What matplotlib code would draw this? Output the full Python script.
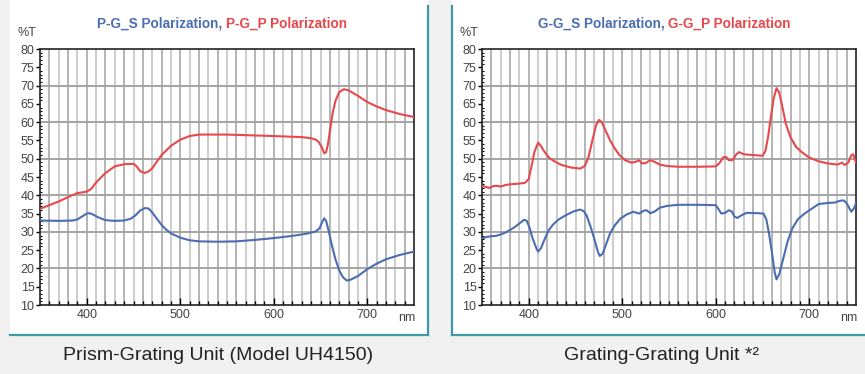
import matplotlib
matplotlib.use("Agg")
import matplotlib.pyplot as plt
from matplotlib.patches import Rectangle
from matplotlib.lines import Line2D

plt.rcParams['font.family'] = ['Liberation Sans', 'DejaVu Sans']

# ---- Data: Prism-Grating unit ----
pg_p_nm = [350, 360, 370, 380, 390, 400, 405, 410, 420, 430, 440, 450, 453, 457, 462, 466, 470, 475, 480,
           490, 500, 510, 520, 550, 600, 630, 640, 645, 648, 651, 654, 656, 658, 660, 663, 666, 670, 675,
           680, 690, 700, 710, 720, 735, 750]
pg_p_t = [36.3, 37.3, 38.3, 39.5, 40.6, 41.0, 41.8, 43.5, 46.1, 47.9, 48.5, 48.6, 48.0, 46.6, 46.1, 46.5, 47.4, 49.2, 51.0,
          53.5, 55.2, 56.2, 56.6, 56.6, 56.2, 55.9, 55.6, 55.2, 54.6, 53.3, 51.5, 51.8, 54.0, 57.5, 62.5, 65.8, 68.2, 69.0,
          68.7, 67.2, 65.5, 64.3, 63.3, 62.2, 61.4]

pg_s_nm = [350, 370, 385, 390, 395, 400, 403, 407, 412, 420, 430, 440, 447, 452, 457, 462, 466, 470, 475, 480,
           485, 490, 500, 510, 520, 540, 560, 580, 600, 620, 635, 645, 649, 652, 654, 656, 659, 662, 666, 670,
           674, 678, 682, 690, 700, 710, 720, 735, 750]
pg_s_t = [33.1, 33.0, 33.1, 33.4, 34.2, 35.0, 35.1, 34.7, 34.0, 33.2, 33.0, 33.1, 33.6, 34.5, 35.8, 36.5, 36.4, 35.3, 33.6, 31.9,
          30.6, 29.6, 28.4, 27.7, 27.4, 27.3, 27.4, 27.8, 28.3, 28.9, 29.5, 30.1, 31.0, 32.8, 33.7, 33.0, 30.0, 26.5, 22.5, 19.5,
          17.6, 16.7, 16.9, 17.9, 19.8, 21.3, 22.5, 23.7, 24.6]

# ---- Data: Grating-Grating unit ----
gg_p_nm = [350, 355, 358, 362, 365, 370, 375, 380, 390, 396, 400, 403, 406, 410, 413, 417, 422, 428, 435, 445,
           455, 460, 464, 468, 472, 475, 478, 482, 487, 492, 497, 503, 510, 515, 518, 521, 525, 530, 535, 540,
           548, 560, 580, 600, 604, 608, 611, 614, 618, 622, 625, 630, 640, 650, 653, 656, 659, 662, 665, 668,
           671, 675, 680, 686, 692, 700, 710, 720, 730, 735, 738, 742, 745, 747, 750]
gg_p_t = [42.6, 42.2, 42.0, 42.5, 42.6, 42.4, 42.8, 43.0, 43.2, 43.4, 44.5, 48.0, 51.8, 54.4, 53.5, 51.8, 50.2, 49.2, 48.3, 47.6,
          47.3, 48.0, 50.5, 55.0, 59.2, 60.6, 60.0, 57.8, 55.0, 52.8, 51.0, 49.6, 48.9, 49.2, 49.6, 48.7, 48.8, 49.6, 49.1, 48.4,
          48.0, 47.8, 47.8, 47.9, 48.8, 50.4, 50.5, 49.6, 49.6, 51.2, 51.8, 51.2, 51.0, 50.8, 52.0, 56.0, 61.5, 66.5, 69.3, 68.0,
          64.5, 59.5, 55.8, 53.2, 51.8, 50.3, 49.3, 48.7, 48.4, 48.9, 48.3, 49.0, 51.0, 51.2, 48.9]

gg_s_nm = [350, 355, 360, 365, 370, 375, 380, 385, 390, 395, 398, 401, 404, 408, 410, 413, 417, 421, 426, 432,
           440, 448, 455, 459, 462, 466, 470, 474, 476, 479, 483, 487, 492, 498, 505, 512, 518, 523, 526, 530,
           535, 540, 548, 560, 580, 600, 603, 606, 610, 614, 617, 620, 623, 628, 633, 645, 651, 654, 657, 660,
           663, 665, 668, 672, 677, 682, 688, 695, 702, 710, 720, 727, 733, 737, 740, 743, 745, 748, 750]
gg_s_t = [28.2, 28.6, 28.8, 28.9, 29.3, 29.8, 30.5, 31.3, 32.3, 33.3, 33.0, 31.0, 28.3, 25.6, 24.6, 25.5, 28.0, 30.3, 32.0, 33.4,
          34.6, 35.6, 36.1, 35.6, 34.4, 31.5, 28.2, 24.5, 23.4, 24.0, 26.8, 29.6, 31.8, 33.6, 34.8, 35.5, 35.0, 35.8, 35.9, 35.1,
          35.6, 36.6, 37.1, 37.4, 37.4, 37.3, 36.2, 35.0, 35.2, 35.9, 35.6, 34.2, 33.8, 34.6, 35.2, 35.1, 35.0, 33.5, 29.5, 24.5,
          19.0, 17.0, 18.5, 22.5, 27.5, 31.0, 33.5, 35.0, 36.2, 37.6, 37.9, 38.0, 38.5, 38.6, 37.8, 36.4, 35.5, 36.5, 37.9]

titles_s = ["P-G_S Polarization, ", "G-G_S Polarization, "]
titles_p = ["P-G_P Polarization", "G-G_P Polarization"]
captions = ["Prism-Grating Unit (Model UH4150)", "Grating-Grating Unit *\u00b2"]
x_ticks = [400, 500, 600, 700]
y_ticks = list(range(10, 81, 5))

RED = "#e8484b"
BLUE = "#4b6db2"
TEAL = "#3c9aa6"
W, H = 865, 374

fig = plt.figure(figsize=(W / 100, H / 100), dpi=100, facecolor="#f1f1f1")

def fx(px):
    return px / W

def fy(py):
    return 1 - py / H

# panels
fig.patches.append(Rectangle((fx(10), fy(336)), fx(418), 336 / H, transform=fig.transFigure,
                             facecolor="white", edgecolor="none", zorder=0))
fig.patches.append(Rectangle((fx(452), fy(336)), fx(413), 336 / H, transform=fig.transFigure,
                             facecolor="white", edgecolor="none", zorder=0))
for (x0, y0, x1, y1) in [(428, 6, 428, 335), (10, 335, 428, 335), (452, 6, 452, 335), (452, 335, 865, 335)]:
    fig.lines.append(Line2D([fx(x0), fx(x1)], [fy(y0), fy(y1)], transform=fig.transFigure,
                            color=TEAL, lw=1.6, zorder=1))

series = [(pg_s_nm, pg_s_t, pg_p_nm, pg_p_t), (gg_s_nm, gg_s_t, gg_p_nm, gg_p_t)]
ax_left_px = [40, 482]
ax_w_px = 374
ax_top_px, ax_bot_px = 49, 305

for i, (snm, st, pnm, pt) in enumerate(series):
    L = ax_left_px[i]
    ax = fig.add_axes([fx(L), fy(ax_bot_px), fx(ax_w_px), (ax_bot_px - ax_top_px) / H])
    ax.set_zorder(5)
    ax.set_facecolor("white")
    ax.set_xlim(350, 750)
    ax.set_ylim(10, 80)
    for v in range(360, 750, 10):
        ax.axvline(v, color="#b4b4b4" if v % 20 == 0 else "#cccccc", lw=1.4, zorder=1)
    for v in range(20, 80, 10):
        ax.axhline(v, color="#a4a4a4", lw=1.4, zorder=1)
    ax.plot(pnm, pt, color=RED, lw=1.5, zorder=3, solid_joinstyle="round")
    ax.plot(snm, st, color=BLUE, lw=1.5, zorder=3, solid_joinstyle="round")
    ax.set_xticks(x_ticks)
    ax.set_xticks(range(360, 750, 10), minor=True)
    ax.set_yticks(y_ticks)
    ax.set_yticks(range(10, 81, 1), minor=True)
    ax.tick_params(axis="x", which="major", direction="in", length=5, width=1, labelsize=9,
                   labelcolor="#444444", pad=3)
    ax.tick_params(axis="x", which="minor", direction="in", length=3, width=1)
    ax.tick_params(axis="y", which="major", direction="out", length=3, width=1, labelsize=9,
                   labelcolor="#444444", pad=1)
    ax.tick_params(axis="y", which="minor", direction="in", length=1.5, width=0.8)
    for s in ax.spines.values():
        s.set_color("#222222")
        s.set_linewidth(1.2)
    # %T and nm labels
    fig.text(fx(L - 22), fy(33), "%T", fontsize=9, color="#444444", ha="left", va="center")
    fig.text(fx(L + ax_w_px - 7), fy(318), "nm", fontsize=9, color="#444444", ha="center", va="center")
    # title
    cx = L + ax_w_px / 2 - 1
    fig.text(fx(cx), fy(24), titles_s[i], fontsize=9.8, color=BLUE, ha="right", va="center",
             fontweight="bold")
    fig.text(fx(cx), fy(24), titles_p[i], fontsize=9.8, color=RED, ha="left", va="center",
             fontweight="bold")
    # caption
    fig.text(fx([218, 662][i]), fy(355), captions[i], fontsize=14, color="#222222",
             ha="center", va="center")

fig.savefig("out.png", dpi=100, facecolor=fig.get_facecolor())
